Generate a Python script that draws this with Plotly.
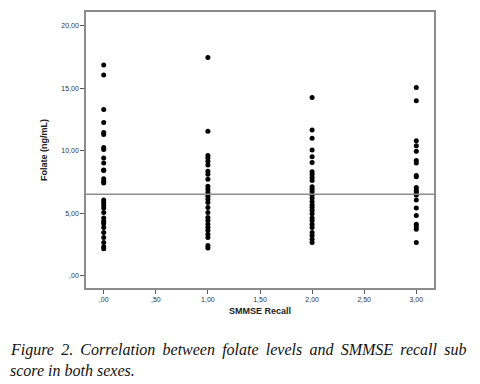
import plotly.graph_objects as go

# SMMSE recall sub score groups and folate values (ng/mL)
recall_0 = [16.85, 16.05, 13.3, 12.25, 11.45, 11.3, 10.25, 10.1, 9.4, 9.0, 8.45, 8.4,
            7.75, 7.55, 7.4, 6.05, 5.85, 5.65, 5.4, 5.05, 4.6, 4.35, 4.15, 3.85,
            3.45, 3.05, 2.65, 2.3, 2.15]
recall_1 = [17.45, 11.55, 9.6, 9.4, 9.15, 8.85, 8.35, 8.1, 7.7, 7.15, 6.9, 6.65,
            6.35, 6.1, 5.85, 5.45, 5.05, 4.65, 4.4, 4.1, 3.85, 3.6, 3.3, 3.05,
            2.4, 2.2]
recall_2 = [14.25, 11.65, 11.0, 10.05, 9.5, 9.05, 8.3, 8.1, 7.85, 7.6, 7.1, 6.9,
            6.7, 6.45, 6.2, 5.9, 5.65, 5.45, 5.2, 4.95, 4.6, 4.4, 4.1, 3.85,
            3.45, 3.2, 2.9, 2.65]
recall_3 = [15.05, 14.0, 10.8, 10.4, 9.95, 9.2, 9.0, 8.0, 7.9, 7.05, 6.85, 6.7,
            6.55, 6.45, 6.05, 5.4, 4.8, 4.1, 3.9, 3.7, 2.65]
mean_folate = 6.5

x_ticks = [0, 0.5, 1, 1.5, 2, 2.5, 3]
x_labels = [",00", ",50", "1,00", "1,50", "2,00", "2,50", "3,00"]
y_ticks = [0, 5, 10, 15, 20]
y_labels = [",00", "5,00", "10,00", "15,00", "20,00"]

caption_1 = "Figure 2. Correlation between folate levels and SMMSE recall sub"
caption_2 = "score in both sexes."

xs, ys = [], []
for g, vals in enumerate([recall_0, recall_1, recall_2, recall_3]):
    xs += [g] * len(vals)
    ys += vals

fig = go.Figure()
fig.add_trace(go.Scatter(
    x=xs, y=ys, mode="markers",
    marker=dict(symbol="circle", size=5, color="black"),
    hoverinfo="skip", showlegend=False))

fig.add_shape(type="line", xref="paper", yref="y", x0=0, x1=1,
              y0=mean_folate, y1=mean_folate,
              line=dict(color="#8c8c8c", width=1.5))

axis_common = dict(showgrid=False, zeroline=False, showline=True,
                   linecolor="#8c8c8c", linewidth=1.5, mirror=True,
                   ticks="outside", ticklen=4, tickcolor="#555555",
                   tickfont=dict(family="Arial, Liberation Sans", size=7, color="#333333"))

fig.update_xaxes(range=[-0.17, 3.17], tickvals=x_ticks, ticktext=x_labels,
                 title=dict(text="<b>SMMSE Recall</b>", standoff=6,
                            font=dict(family="Arial, Liberation Sans", size=9, color="#222222")),
                 **axis_common)
fig.update_yaxes(range=[-1.0, 21.1], tickvals=y_ticks, ticktext=y_labels,
                 title=dict(text="<b>Folate (ng/mL)</b>", standoff=12,
                            font=dict(family="Arial, Liberation Sans", size=9, color="#222222")),
                 **axis_common)

gap = " \u2009"
line1 = gap.join(caption_1.split(" "))
W, H = 472, 376
L, R, T, B = 78, 46, 2, 96
pw, ph = W - L - R, H - T - B
cap_font = dict(family="Liberation Serif, Times New Roman", size=16, color="#111111")
fig.add_annotation(text="<i>" + line1 + "</i>", xref="x domain", yref="y domain",
                   x=(0 - L) / pw, y=(H - B - 342) / ph, xanchor="left", yanchor="middle",
                   showarrow=False, font=cap_font)
fig.add_annotation(text="<i>" + caption_2 + "</i>", xref="x domain", yref="y domain",
                   x=(0 - L) / pw, y=(H - B - 363) / ph, xanchor="left", yanchor="middle",
                   showarrow=False, font=cap_font)

fig.update_layout(width=W, height=H, autosize=False,
                  margin=dict(l=L, r=R, t=T, b=B),
                  paper_bgcolor="white", plot_bgcolor="white")

fig.write_html("out.html")
